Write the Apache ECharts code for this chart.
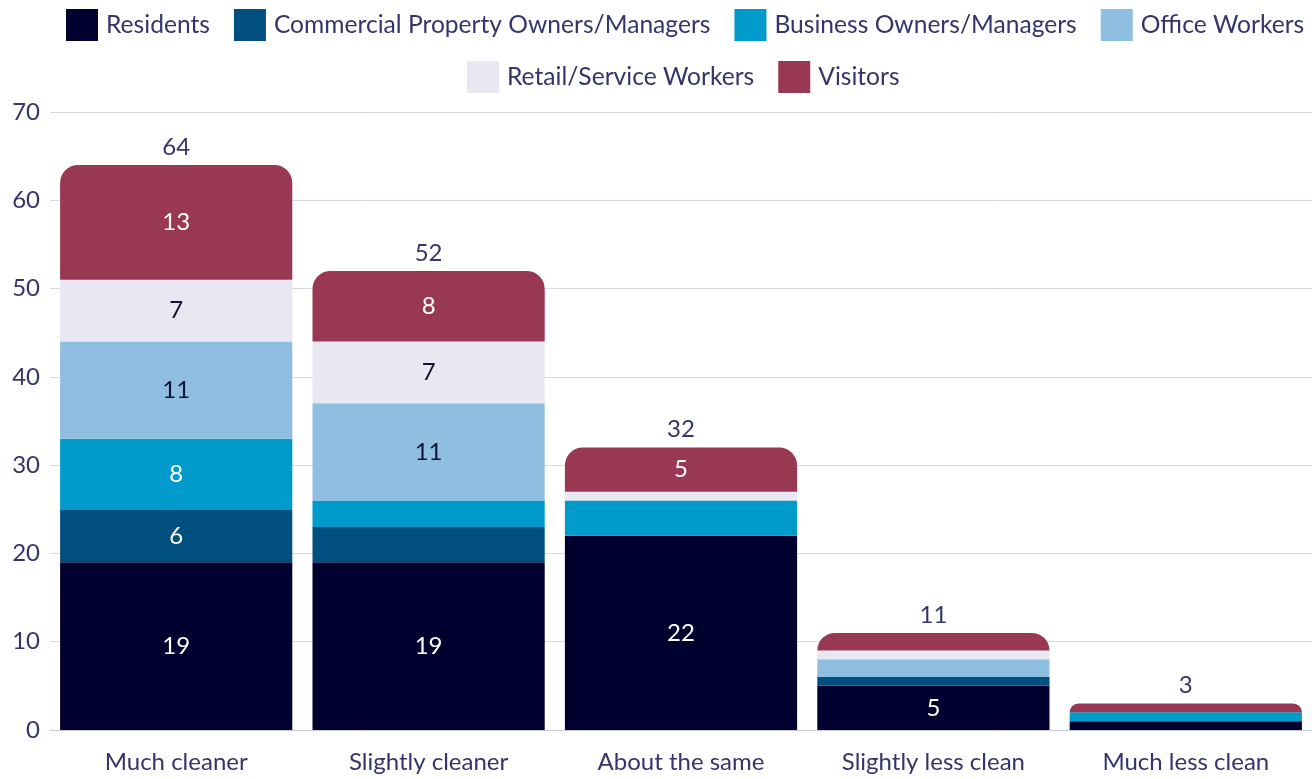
<!DOCTYPE html>
<html>
<head>
<meta charset="utf-8">
<script src="https://cdn.jsdelivr.net/npm/echarts@6/dist/echarts.min.js"></script>
<style>
  html, body { margin: 0; padding: 0; background: #fff; }
  #main { width: 1312px; height: 779px; }
</style>
</head>
<body>
<div id="main"></div>
<script>
// categories and series values
var categories = ['Much cleaner', 'Slightly cleaner', 'About the same', 'Slightly less clean', 'Much less clean'];
var residents  = [19, 19, 22, 5, 1];
var commercial = [6, 4, 0, 1, 0];
var business   = [8, 3, 4, 0, 1];
var office     = [11, 11, 0, 2, 0];
var retail     = [7, 7, 1, 1, 0];
var visitors   = [13, 8, 5, 2, 1];
var totals     = [64, 52, 32, 11, 3];
var yTicks     = [0, 10, 20, 30, 40, 50, 60, 70];

var textColor = '#33356b';
var font = 'Lato';

function mk(name, data, color, labelColor, radius) {
  return {
    name: name,
    type: 'bar',
    stack: 'all',
    data: data,
    barCategoryGap: '8%',
    itemStyle: { color: color, borderRadius: radius || 0 },
    label: {
      show: true,
      position: 'inside',
      color: labelColor,
      fontSize: 24,
      fontFamily: font,
      formatter: function (p) { return p.value >= 5 ? p.value : ''; }
    },
    emphasis: { disabled: true }
  };
}

var legendText = { fontSize: 24.6, color: textColor, fontFamily: font, padding: [0, 0, 0, 3] };

var myChart = echarts.init(document.getElementById('main'));
var option = {
  animation: false,
  textStyle: { fontFamily: font },
  legend: [{
    top: 9,
    left: 66,
    width: 1400,
    padding: 0,
    itemWidth: 32,
    itemHeight: 32,
    itemGap: 24,
    icon: 'rect',
    textStyle: legendText,
    data: ['Residents', 'Commercial Property Owners/Managers', 'Business Owners/Managers', 'Office Workers']
  }, {
    top: 61,
    left: 467,
    width: 800,
    padding: 0,
    itemWidth: 32,
    itemHeight: 32,
    itemGap: 24,
    icon: 'rect',
    textStyle: legendText,
    data: ['Retail/Service Workers', 'Visitors']
  }],
  grid: { left: 50, right: -8, top: 112, bottom: 49 },
  xAxis: {
    type: 'category',
    data: categories,
    axisTick: { show: false },
    axisLine: { lineStyle: { color: '#c9c9dc' } },
    axisLabel: { color: textColor, fontSize: 24, fontFamily: font, margin: 20 }
  },
  yAxis: {
    type: 'value',
    min: yTicks[0],
    max: yTicks[yTicks.length - 1],
    interval: 10,
    splitLine: { lineStyle: { color: '#d8d8ea' } },
    axisLabel: { color: textColor, fontSize: 24, fontFamily: font, margin: 10, align: 'right' }
  },
  series: [
    mk('Residents', residents, '#00002e', '#ffffff'),
    mk('Commercial Property Owners/Managers', commercial, '#004f7e', '#ffffff'),
    mk('Business Owners/Managers', business, '#009acb', '#ffffff'),
    mk('Office Workers', office, '#8fbfe0', '#111133'),
    mk('Retail/Service Workers', retail, '#e8e8f2', '#111133'),
    mk('Visitors', visitors, '#993853', '#ffffff', [18, 18, 0, 0]),
    {
      name: 'total',
      type: 'scatter',
      data: totals,
      symbolSize: 0,
      itemStyle: { opacity: 1 },
      label: {
        show: true,
        position: 'top',
        distance: 6,
        color: textColor,
        fontSize: 24,
        fontFamily: font,
        formatter: function (p) { return p.value; }
      },
      emphasis: { disabled: true },
      silent: true
    }
  ]
};
myChart.setOption(option);
</script>
</body>
</html>
